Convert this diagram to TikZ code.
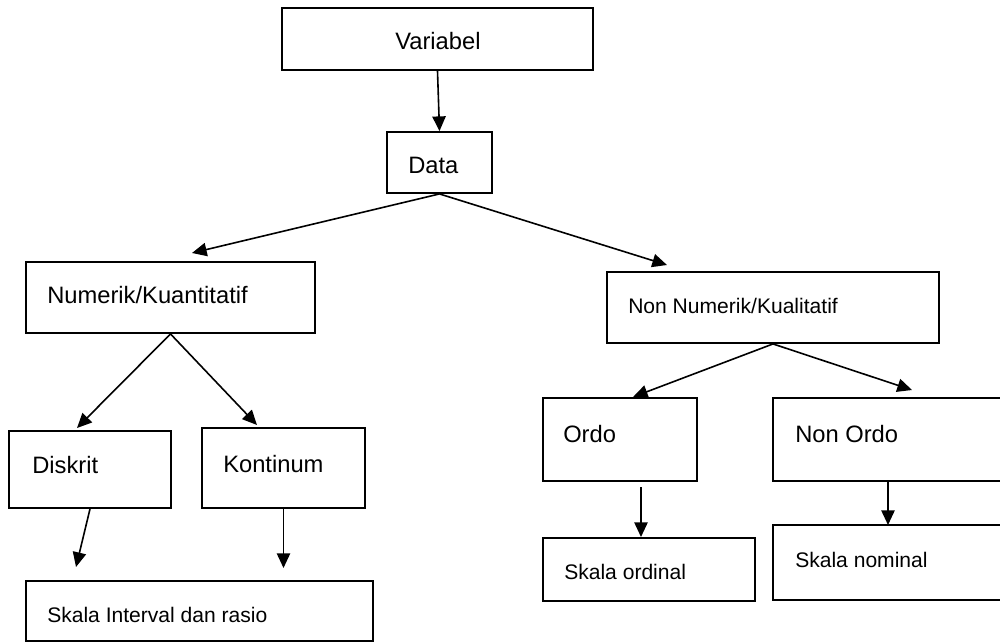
\documentclass[tikz,border=0pt]{standalone}
\usepackage{fontspec}
\setmainfont{Liberation Sans}
\usetikzlibrary{arrows.meta,fit}
\begin{document}
\begin{tikzpicture}[x=0.75pt,y=-0.75pt,
  box/.style={draw=black,line width=1.4pt,inner sep=0pt,rectangle},
  bigtxt/.style={anchor=base west,inner sep=0pt,font=\fontsize{17.8pt}{20pt}\selectfont},
  smalltxt/.style={anchor=base west,inner sep=0pt,font=\fontsize{15.8pt}{18pt}\selectfont},
  arr/.style={line width=1.2pt,-{Triangle[length=11pt,width=10pt]}}]
\useasboundingbox (0,0) rectangle (1000,642);
\clip (0,0) rectangle (1000,642);
% boxes
\node[box,fit={(282,8) (593,70)}] (var) {};
\node[box,fit={(387,132) (492,193)}] (data) {};
\node[box,fit={(26,262) (315,333)}] (num) {};
\node[box,fit={(607,272) (939,343)}] (nonnum) {};
\node[box,fit={(9,431) (171,508)}] (disk) {};
\node[box,fit={(202,428) (365,508)}] (kont) {};
\node[box,fit={(543,398) (697,481)}] (ordo) {};
\node[box,fit={(773,398) (1003,481)}] (nonordo) {};
\node[box,fit={(26,581) (373,641)}] (interval) {};
\node[box,fit={(543,538) (755,601)}] (ordinal) {};
\node[box,fit={(773,525) (1003,600)}] (nominal) {};
% texts
\node[bigtxt] (tvar) at (395,50) {Variabel};
\node[bigtxt] (tdata) at (408,173) {Data};
\node[bigtxt] (tnum) at (47,303) {Numerik/Kuantitatif};
\node[smalltxt] (tnonnum) at (628,313) {Non Numerik/Kualitatif};
\node[bigtxt] (tdisk) at (32,473) {Diskrit};
\node[bigtxt] (tkont) at (223,472) {Kontinum};
\node[bigtxt] (tordo) at (563,442) {Ordo};
\node[bigtxt] (tnonordo) at (795,442) {Non Ordo};
\node[smalltxt] (tinterval) at (47,622) {Skala Interval dan rasio};
\node[smalltxt] (tordinal) at (564,579) {Skala ordinal};
\node[smalltxt] (tnominal) at (795,567) {Skala nominal};
% arrow end points
\coordinate (pnum) at (192,253);
\coordinate (pnonnum) at (667,265);
\coordinate (pdisk) at (77,428);
\coordinate (pkont) at (257,425);
\coordinate (pordo) at (633,397);
\coordinate (pnonordo) at (912,390);
\coordinate (pint1) at (76,567);
\coordinate (pint2) at (283.5,568);
\coordinate (sordo) at (641,487);
\coordinate (pordinal) at (641,537);
\coordinate (pnominal) at (888,525);
% connectors
\draw[arr] (var.south) -- (data.north);
\draw[arr] (data.south) -- (pnum);
\draw[arr] (data.south) -- (pnonnum);
\draw[arr] (num.south) -- (pdisk);
\draw[arr] (num.south) -- (pkont);
\draw[arr] (nonnum.south) -- (pordo);
\draw[arr] (nonnum.south) -- (pnonordo);
\draw[arr] (disk.south) -- (pint1);
\draw[arr] (kont.south) -- (pint2);
\draw[arr] (sordo) -- (pordinal);
\draw[arr] (nonordo.south) -- (pnominal);
\end{tikzpicture}
\end{document}
